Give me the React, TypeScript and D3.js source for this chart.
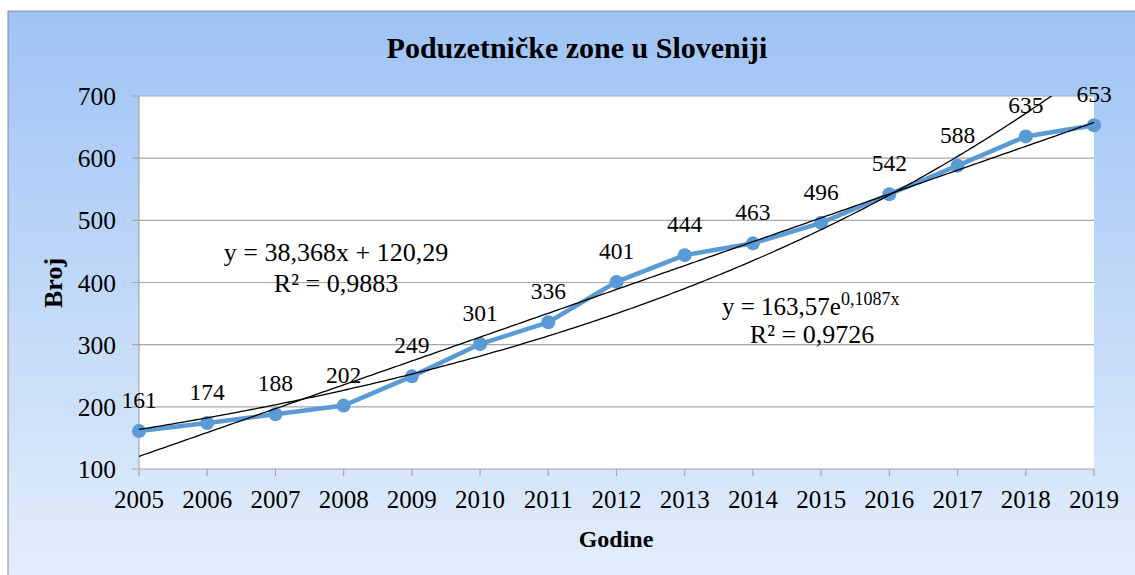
import React from 'react'
import * as d3 from 'd3'

const years = ['2005', '2006', '2007', '2008', '2009', '2010', '2011', '2012', '2013', '2014', '2015', '2016', '2017', '2018', '2019']
const zones = [161, 174, 188, 202, 249, 301, 336, 401, 444, 463, 496, 542, 588, 635, 653]
const yTicks = [100, 200, 300, 400, 500, 600, 700]

// trend line coefficients as printed on the chart (x = 0 at 2005)
const linA = 38.368
const linB = 120.29
const expA = 163.57
const expK = 0.1087

const W = 1135
const H = 575
const margin = { top: 96, right: 41, bottom: 106, left: 139 }
const font = '"Liberation Serif", "Times New Roman", serif'

const App = () => {
  const innerW = W - margin.left - margin.right
  const innerH = H - margin.top - margin.bottom

  const x = d3.scalePoint<string>().domain(years).range([0, innerW])
  const xi = d3.scaleLinear().domain([0, years.length - 1]).range([0, innerW])
  const y = d3.scaleLinear().domain([100, 700]).range([innerH, 0])

  const line = d3
    .line<number>()
    .x((d, i) => x(years[i]) || 0)
    .y((d) => y(d))

  const idx = d3.range(0, years.length - 1 + 0.001, 0.05)
  const linPath = d3
    .line<number>()
    .x((t) => xi(t))
    .y((t) => y(linA * t + linB))(idx)
  const expPath = d3
    .line<number>()
    .x((t) => xi(t))
    .y((t) => y(expA * Math.exp(expK * t)))(idx)

  return (
    <svg width={W} height={H} style={{ position: 'absolute', left: 0, top: 0 }} fontFamily={font}>
      <defs>
        <linearGradient id='bg' x1='0' y1='0' x2='0' y2='1'>
          <stop offset='0' stopColor='#9ec3f5' />
          <stop offset='1' stopColor='#e4eefb' />
        </linearGradient>
        <clipPath id='plot'>
          <rect x={0} y={0} width={innerW + 2} height={innerH} />
        </clipPath>
      </defs>
      <rect x={8} y={11} width={W} height={H} fill='url(#bg)' stroke='#8c8c8c' strokeWidth={1} />
      <text x={577} y={58} textAnchor='middle' fontSize={30} fontWeight='bold'>
        Poduzetničke zone u Sloveniji
      </text>
      <g transform={`translate(${margin.left}, ${margin.top})`}>
        <rect x={0} y={0} width={innerW} height={innerH} fill='#fff' />
        {yTicks.map((t) => (
          <g key={t}>
            <line x1={-7} x2={innerW} y1={y(t)} y2={y(t)} stroke='#a6a6a6' strokeWidth={1.2} />
            <text x={-23} y={y(t) + 9} textAnchor='end' fontSize={25.5}>
              {t}
            </text>
          </g>
        ))}
        <line x1={0} x2={0} y1={0} y2={innerH} stroke='#a6a6a6' strokeWidth={1.2} />
        {years.map((yr) => (
          <g key={yr} transform={`translate(${x(yr)}, ${innerH})`}>
            <line y1={0} y2={7} stroke='#a6a6a6' strokeWidth={1.2} />
            <text y={39} textAnchor='middle' fontSize={25}>
              {yr}
            </text>
          </g>
        ))}
        <path d={line(zones) || ''} fill='none' stroke='#5b9bd5' strokeWidth={4.5} />
        {zones.map((v, i) => (
          <circle key={i} cx={x(years[i])} cy={y(v)} r={7} fill='#5b9bd5' />
        ))}
        <g clipPath='url(#plot)'>
          <path d={linPath || ''} fill='none' stroke='#000' strokeWidth={1.3} />
          <path d={expPath || ''} fill='none' stroke='#000' strokeWidth={1.3} />
        </g>
        {zones.map((v, i) => (
          <text key={i} x={x(years[i])} y={y(v) - 23} textAnchor='middle' fontSize={23.5}>
            {v}
          </text>
        ))}
        <text x={197} y={165} textAnchor='middle' fontSize={26}>
          y = 38,368x + 120,29
        </text>
        <text x={197} y={196} textAnchor='middle' fontSize={26}>
          R² = 0,9883
        </text>
        <text x={583} y={219} fontSize={25}>
          y = 163,57e
          <tspan dy={-10} fontSize={18}>
            0,1087x
          </tspan>
        </text>
        <text x={673} y={247} textAnchor='middle' fontSize={26}>
          R² = 0,9726
        </text>
      </g>
      <text x={616} y={547} textAnchor='middle' fontSize={24} fontWeight='bold'>
        Godine
      </text>
      <text transform='translate(62, 283) rotate(-90)' textAnchor='middle' fontSize={26} fontWeight='bold'>
        Broj
      </text>
    </svg>
  )
}

export default App
